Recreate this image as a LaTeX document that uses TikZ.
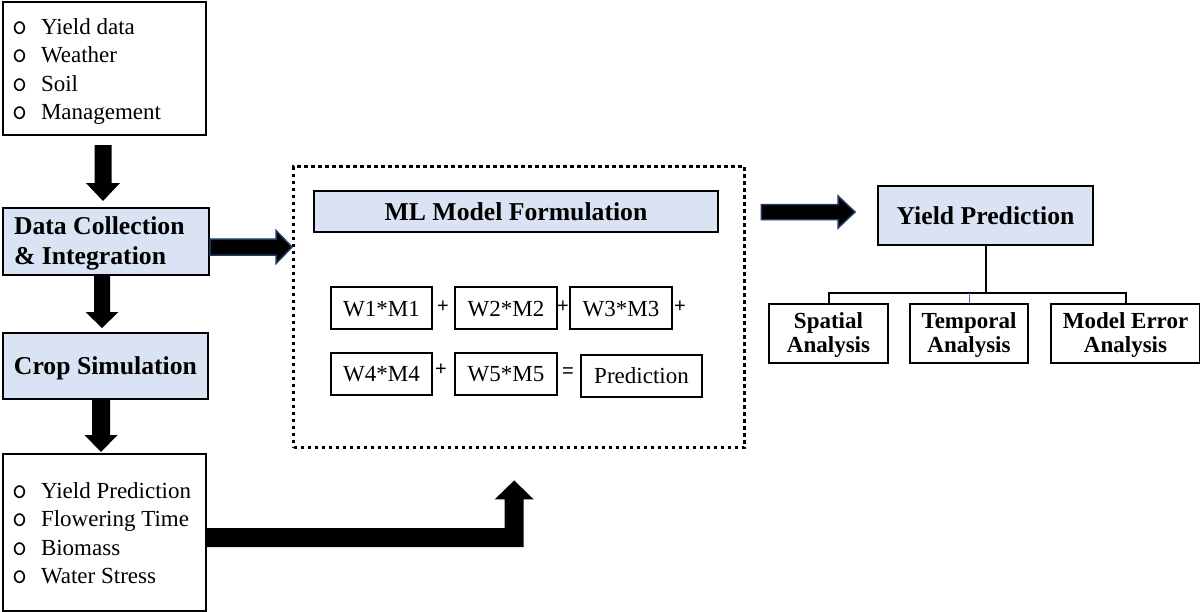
\documentclass[tikz,border=0pt]{standalone}
\usepackage{fontspec}
\setmainfont{Liberation Serif}
\newfontfamily\sansf{Liberation Sans}
\usetikzlibrary{calc}
\definecolor{boxblue}{HTML}{DAE3F3}
\definecolor{arrowedge}{HTML}{203864}
\definecolor{linkblue}{HTML}{4472C4}
\newcommand\bul{\makebox[15pt][l]{\hspace*{0.5pt}{\ttfamily\fontsize{14.5}{14.25}\selectfont o}}}
\newcommand\regfont{\fontsize{11.5}{14.25}\selectfont}
\newcommand\bigbold{\fontsize{12.85}{15}\selectfont\bfseries}
\newcommand\smallbold{\fontsize{11.5}{12}\selectfont\bfseries}
% vertical block arrow: start, tip, shaft half width, head half width, head length, style
\newcommand\vblock[6]{\path[#6] ($(#1)+(-#3,0)$) -- ($(#2)+(-#3,-#5)$) -- ($(#2)+(-#4,-#5)$) -- (#2) -- ($(#2)+(#4,-#5)$) -- ($(#2)+(#3,-#5)$) -- ($(#1)+(#3,0)$) -- cycle;}
% horizontal block arrow
\newcommand\hblock[6]{\path[#6] ($(#1)+(0,-#3)$) -- ($(#2)+(-#5,-#3)$) -- ($(#2)+(-#5,-#4)$) -- (#2) -- ($(#2)+(-#5,#4)$) -- ($(#2)+(-#5,#3)$) -- ($(#1)+(0,#3)$) -- cycle;}
\begin{document}
\begin{tikzpicture}[x=0.5pt, y=-0.5pt,
  base/.style={draw, line width=1pt, inner sep=0pt, rectangle},
  bluebox/.style={base, fill=boxblue},
  eqbox/.style={base, font=\regfont, anchor=north west, text height=14.5pt, text depth=6.5pt},
  eqboxb/.style={base, font=\regfont, anchor=north west, text height=14pt, text depth=7pt},
  anabox/.style={base, font=\smallbold, anchor=north west, text height=12pt, text depth=17.5pt},
  op/.style={font={\sansf\fontsize{10}{12}\selectfont}, inner sep=0pt},
  blackarrow/.style={fill=black},
  edgearrow/.style={fill=black, draw=arrowedge, line width=0.75pt, line join=miter},
  tree/.style={line width=1pt}]
\useasboundingbox[fill=white] (0,0) rectangle (1200,611);

% left column
\node[base, anchor=north west, font=\regfont, inner xsep=4pt, text height=16pt, text depth=50.25pt] (inputs) at (2,1)
  {\makebox[93.5pt][l]{\begin{tabular}[t]{@{}l@{}}\bul Yield data\\ \bul Weather\\ \bul Soil\\ \bul Management\end{tabular}}};
\node[bluebox, anchor=north west, font=\bigbold, inner xsep=5.5pt, text height=13pt, text depth=20.5pt] (dc) at (2,207)
  {\makebox[92pt][l]{\begin{tabular}[t]{@{}l@{}}Data Collection\\ \& Integration\end{tabular}}};
\node[bluebox, anchor=north west, font=\bigbold, minimum width=102.5pt, text height=20.5pt, text depth=12.5pt] (cs) at (2,332) {Crop Simulation};
\node[base, anchor=north west, font=\regfont, inner xsep=4pt, text height=22pt, text depth=56.5pt] (outputs) at (2,453)
  {\makebox[93.5pt][l]{\begin{tabular}[t]{@{}l@{}}\bul Yield Prediction\\ \bul Flowering Time\\ \bul Biomass\\ \bul Water Stress\end{tabular}}};

% ML model block
\node[anchor=north west, minimum width=225.5pt, minimum height=140.5pt, inner sep=0pt, draw, line width=1.7pt, dash pattern=on 1.7pt off 1.8pt] (mlbox) at (292,165) {};
\node[bluebox, anchor=north west, font=\bigbold, minimum width=202pt, text height=14.5pt, text depth=6pt] (mltitle) at (313,190) {ML Model Formulation};
\node[eqbox, minimum width=50.5pt] (w1) at (330,286) {W1*M1};
\node[eqbox, minimum width=51pt] (w2) at (454,286) {W2*M2};
\node[eqbox, minimum width=51pt] (w3) at (569,286) {W3*M3};
\node[eqboxb, minimum width=50.5pt] (w4) at (330,352) {W4*M4};
\node[eqboxb, minimum width=51pt] (w5) at (454,352) {W5*M5};
\node[eqboxb, minimum width=60.5pt] (pred) at (580,354) {Prediction};
\node[op] (o1) at (443,307) {+};
\node[op] (o2) at (563,307) {+};
\node[op] (o3) at (680,307) {+};
\node[op] (o4) at (441,370) {+};
\node[op] (o5) at (568,373) {=};

% right part
\node[bluebox, anchor=north west, font=\bigbold, minimum width=107.5pt, text height=19pt, text depth=10.5pt] (yp) at (877,185) {Yield Prediction};
\node[anabox, minimum width=59.5pt] (spa) at (768,303) {\begin{tabular}[t]{@{}c@{}}Spatial\\ Analysis\end{tabular}};
\node[anabox, minimum width=59pt] (tem) at (909,303) {\begin{tabular}[t]{@{}c@{}}Temporal\\ Analysis\end{tabular}};
\node[anabox, minimum width=74.5pt] (err) at (1050,303) {\begin{tabular}[t]{@{}c@{}}Model Error\\ Analysis\end{tabular}};

\coordinate (bus) at ($(yp.south)+(0,47)$);
\draw[tree] (yp.south) -- (bus);
\draw[tree] (spa.north) -- (spa.north |- bus) -- (err.north |- bus) -- (err.north);
\draw[linkblue, line width=0.5pt] (tem.north) -- (tem.north |- bus);

% block arrows
\coordinate (a1s) at ($(inputs.south)+(-1.5,9.5)$);
\coordinate (a1t) at ($(a1s |- dc.north)+(0,-6)$);
\vblock{a1s}{a1t}{8.5}{17}{18}{blackarrow}
\coordinate (b1s) at ($(dc.south)+(-4,0)$);
\coordinate (b1t) at ($(b1s |- cs.north)+(0,-4)$);
\vblock{b1s}{b1t}{8}{16.5}{16}{blackarrow}
\coordinate (c1s) at ($(cs.south)+(-4.5,0)$);
\coordinate (c1t) at ($(c1s |- outputs.north)+(0,-1)$);
\vblock{c1s}{c1t}{9}{16.5}{17}{blackarrow}

\coordinate (d1s) at ($(dc.east)+(0,5.5)$);
\coordinate (d1t) at (d1s -| mlbox.west);
\hblock{d1s}{d1t}{8}{16.5}{16}{edgearrow}
\coordinate (e1s) at ($(mlbox.east |- yp.west)+(15,-3.5)$);
\coordinate (e1t) at ($(e1s -| yp.west)+(-22,0)$);
\hblock{e1s}{e1t}{7.5}{16}{17}{edgearrow}

\coordinate (f1s) at ($(outputs.east)+(0,5)$);
\coordinate (f1t) at ($(mlbox.south)+(-5,31)$);
\coordinate (fc) at (f1t |- f1s);
\fill[black] ($(f1s)+(0,-9.5)$) -- ($(fc)+(-9.5,-9.5)$) -- ($(f1t)+(-9.5,19)$) -- ($(f1t)+(-19.5,19)$) -- (f1t)
  -- ($(f1t)+(19.5,19)$) -- ($(f1t)+(9.5,19)$) -- ($(fc)+(9.5,9.5)$) -- ($(f1s)+(0,9.5)$) -- cycle;
\end{tikzpicture}
\end{document}
